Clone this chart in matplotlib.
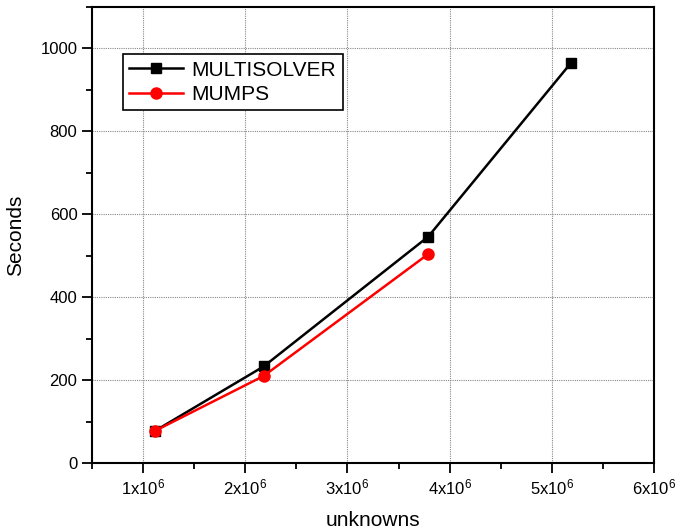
import matplotlib
matplotlib.use("Agg")
import matplotlib.pyplot as plt
from matplotlib.ticker import MultipleLocator, FuncFormatter

plt.rcParams['font.family'] = ['Liberation Sans', 'DejaVu Sans']
plt.rcParams['mathtext.fontset'] = 'custom'
plt.rcParams['mathtext.rm'] = 'Liberation Sans'

# data
multi_x = [1.12e6, 2.18e6, 3.79e6, 5.19e6]
multi_y = [78, 233, 546, 966]
mumps_x = [1.12e6, 2.18e6, 3.79e6]
mumps_y = [78, 210, 504]

fig = plt.figure(figsize=(6.78, 5.30), dpi=100)
ax = fig.add_axes([0.1357, 0.1264, 0.829, 0.8604])

ax.plot(multi_x, multi_y, color='black', lw=1.8, marker='s', ms=7, label='MULTISOLVER')
ax.plot(mumps_x, mumps_y, color='red', lw=1.8, marker='o', ms=8, label='MUMPS')

ax.set_xlim(0.5e6, 6e6)
ax.set_ylim(0, 1100)
ax.xaxis.set_major_locator(MultipleLocator(1e6))
ax.xaxis.set_minor_locator(MultipleLocator(0.5e6))
ax.yaxis.set_major_locator(MultipleLocator(200))
ax.yaxis.set_minor_locator(MultipleLocator(100))
ax.xaxis.set_major_formatter(FuncFormatter(lambda v, p: r'$\mathregular{%dx10^6}$' % round(v / 1e6)))

ax.grid(True, which='major', color='#888888', ls=(0, (1, 1)), lw=0.8)
ax.tick_params(which='major', direction='out', length=7, width=1.3, labelsize=12)
ax.tick_params(which='minor', direction='out', length=4, width=1.3)
for s in ax.spines.values():
    s.set_linewidth(1.5)

ax.set_xlabel('unknowns', fontsize=15, labelpad=10)
ax.set_ylabel('Seconds', fontsize=15, labelpad=11)

leg = ax.legend(loc='upper left', bbox_to_anchor=(0.055, 0.896), fontsize=15,
                frameon=True, fancybox=False, edgecolor='black', framealpha=1,
                handlelength=2.6, handletextpad=0.4, borderpad=0.3, labelspacing=0.25,
                borderaxespad=0)
leg.get_frame().set_linewidth(1.2)

fig.savefig('out.png', dpi=100)
